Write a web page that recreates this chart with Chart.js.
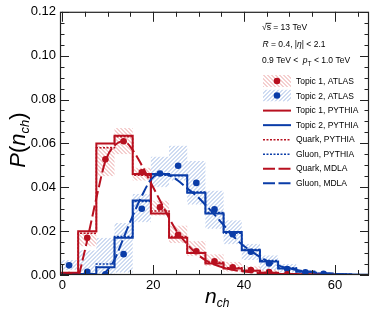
<!DOCTYPE html>
<html><head><meta charset="utf-8">
<script src="https://cdn.jsdelivr.net/npm/chart.js@4.4.1/dist/chart.umd.min.js"></script>
<style>html,body{margin:0;padding:0;background:#fff;}canvas{display:block;}</style>
</head><body>
<canvas id="c" width="386" height="316" style="width:386px;height:316px"></canvas>
<script>
// ---------------- data ----------------
const binEdges = [-0.5,3.5,7.5,11.5,15.5,19.5,23.5,27.5,31.5,35.5,39.5,43.5,47.5,51.5,55.5,59.5,63.5,67.5];
const topic1Pythia = [0.001,0.020,0.060,0.0635,0.046,0.028,0.017,0.010,0.0053,0.003,0.0019,0.001,0.0005,0.0003,0.0001,0,0];
const quarkPythia  = [0.001,0.019,0.058,0.063,0.0455,0.0292,0.0175,0.0103,0.0058,0.0033,0.002,0.0011,0.0006,0.0003,0.0001,0,0];
const topic2Pythia = [0.0005,0.0005,0.0035,0.017,0.034,0.046,0.0455,0.0375,0.028,0.0196,0.0113,0.0062,0.003,0.0015,0.0007,0.0003,0.0001];
const gluonPythia  = [0.0005,0.0006,0.005,0.0176,0.0335,0.0455,0.0452,0.0378,0.0285,0.019,0.0116,0.0066,0.0032,0.0016,0.0007,0.0003,0.0001];

const topic1Atlas   = [0,0.0170,0.0528,0.0610,0.0468,0.0309,0.0183,0.0108,0.0063,0.0035,0.0023,0.0014,0.0003];
const topic1AtlasLo = [0,0.013,0.045,0.055,0.043,0.027,0.0145,0.0085,0.004,0.0015,0.0008,0.0003,0];
const topic1AtlasHi = [0.0005,0.0195,0.059,0.067,0.049,0.034,0.0226,0.0155,0.0095,0.006,0.004,0.0025,0.001];
const topic2Atlas   = [0.0044,0.0015,0.0003,0.0095,0.0302,0.0463,0.0498,0.0420,0.0299,0.0186,0.0106,0.0053,0.0027,0.0012,0.0005];
const topic2AtlasLo = [0.0023,0,0,0.001,0.024,0.040,0.043,0.032,0.021,0.014,0.0068,0.002,0.001,0.0003,0.0001];
const topic2AtlasHi = [0.0068,0.0113,0.017,0.0237,0.037,0.054,0.059,0.052,0.0385,0.025,0.0143,0.009,0.005,0.002,0.001];

const quarkMdlaX = [3.7,5.5,7.5,9.5,11.5,13.5,15.5,17.5,19.5,21.5,23.5,25.5,27.5,29.5,31.5,33.5,35.5,37.5,41.5,45.5,49.5,53.5,57.5];
const quarkMdlaY = [0,0.016,0.035,0.052,0.059,0.061,0.057,0.050,0.042,0.034,0.026,0.019,0.014,0.0098,0.0068,0.0048,0.0034,0.0024,0.0012,0.0006,0.0003,0.0002,0.0001];
const gluonMdlaX = [8.7,9.5,11.5,13.5,15.5,17.5,19.5,21.5,23.5,25.5,27.5,29.5,31.5,33.5,35.5,37.5,39.5,41.5,43.5,45.5,47.5,49.5,53.5,57.5,61.5,65.5];
const gluonMdlaY = [0,0.0012,0.007,0.017,0.027,0.036,0.0435,0.046,0.0455,0.043,0.0395,0.0362,0.032,0.0275,0.0228,0.018,0.014,0.011,0.0082,0.006,0.0044,0.0032,0.0016,0.0008,0.0003,0.0001];

const xTickValues = [0,20,40,60];
const yTickValues = [0,0.02,0.04,0.06,0.08,0.10,0.12];
const legendLabels = ['Topic 1, ATLAS','Topic 2, ATLAS','Topic 1, PYTHIA','Topic 2, PYTHIA','Quark, PYTHIA','Gluon, PYTHIA','Quark, MDLA','Gluon, MDLA'];

// ---------------- helpers ----------------
const RED = '#b8101f', BLUE = '#0a3ca8';
const RED_HATCH = 'rgb(234,160,160)', BLUE_HATCH = 'rgb(158,184,228)';
const FONT = '"Liberation Sans", Arial, Helvetica, sans-serif';
const canvas = document.getElementById('c');
const centers = binEdges.slice(0,-1).map((e,i)=> (e+binEdges[i+1])/2);
const stepData = vals => vals.map((v,i)=>({x:binEdges[i], y:v})).concat([{x:binEdges[vals.length], y:vals[vals.length-1]}]);
const pts = vals => vals.map((v,i)=>({x:centers[i], y:v}));
const boxes = (lo,hi) => lo.map((l,i)=>({x:centers[i], y:[l,hi[i]]}));
const curve = (xs,ys) => xs.map((x,i)=>({x, y:ys[i]}));

function hatchRect(ctx, l, t, w, h, color, dir){
  if (w <= 0 || h <= 0) return;
  ctx.save();
  ctx.beginPath(); ctx.rect(l, t, w, h); ctx.clip();
  ctx.strokeStyle = color; ctx.lineWidth = 1; ctx.setLineDash([]);
  ctx.beginPath();
  const P = 4;
  if (dir > 0){
    const cmin = Math.floor((l + t) / P) * P, cmax = l + w + t + h + P;
    for (let c = cmin; c <= cmax; c += P){ ctx.moveTo(c - t + 0.5, t); ctx.lineTo(c - t - h + 0.5, t + h); }
  } else {
    const cmin = Math.floor((l - t - h) / P) * P - P, cmax = l + w - t + P;
    for (let c = cmin; c <= cmax; c += P){ ctx.moveTo(c + t + 0.5, t); ctx.lineTo(c + t + h + 0.5, t + h); }
  }
  ctx.stroke();
  ctx.restore();
}

function rich(ctx, x, y, parts, size){
  let cx = x;
  for (const p of parts){
    const sz = p.sz || size;
    ctx.font = (p.it ? 'italic ' : '') + sz + 'px ' + FONT;
    const yy = y + (p.dy || 0);
    ctx.fillText(p.t, cx, yy);
    const w = ctx.measureText(p.t).width;
    if (p.over){ ctx.save(); ctx.lineWidth = 0.8; ctx.strokeStyle = ctx.fillStyle; ctx.beginPath(); ctx.moveTo(cx-1, yy - sz*0.78); ctx.lineTo(cx+w+0.5, yy - sz*0.78); ctx.stroke(); ctx.restore(); }
    cx += w;
  }
  return cx - x;
}
function richWidth(ctx, parts, size){
  let w = 0;
  for (const p of parts){ ctx.font = (p.it ? 'italic ' : '') + (p.sz||size) + 'px ' + FONT; w += ctx.measureText(p.t).width; }
  return w;
}

const hatchPlugin = {
  id: 'hatchBars',
  afterDatasetDraw(chart, args){
    const ds = chart.data.datasets[args.index];
    if (!ds.hatchColor) return;
    const ctx = chart.ctx, a = chart.chartArea;
    ctx.save();
    ctx.beginPath(); ctx.rect(a.left, a.top, a.right - a.left, a.bottom - a.top); ctx.clip();
    for (const el of args.meta.data){
      const top = Math.min(el.y, el.base), bot = Math.max(el.y, el.base);
      hatchRect(ctx, el.x - el.width/2, top, el.width, bot - top, ds.hatchColor, ds.hatchDir);
    }
    ctx.restore();
  }
};

const decorPlugin = {
  id: 'decor',
  afterDatasetsDraw(chart){
    const {ctx, chartArea:a, scales:{x, y}} = chart;
    ctx.save();
    // frame
    ctx.strokeStyle = '#222'; ctx.lineWidth = 1.2;
    ctx.strokeRect(a.left + 0.5, a.top + 0.5, a.right - a.left - 1, a.bottom - a.top - 1);
    ctx.lineWidth = 1;
    ctx.beginPath();
    for (let v = 0; v <= 67; v += 5){
      const px = Math.round(x.getPixelForValue(v)) + 0.5;
      const L = (v % 20 === 0) ? 10 : 5;
      ctx.moveTo(px, a.bottom); ctx.lineTo(px, a.bottom - L);
      ctx.moveTo(px, a.top); ctx.lineTo(px, a.top + L);
    }
    for (let k = 0; k <= 24; k++){
      const v = k * 0.005;
      const py = Math.round(y.getPixelForValue(v)) + 0.5;
      const L = (k % 4 === 0) ? 9 : 4.5;
      ctx.moveTo(a.left, py); ctx.lineTo(a.left + L, py);
      ctx.moveTo(a.right, py); ctx.lineTo(a.right - L, py);
    }
    ctx.stroke();

    // axis titles
    ctx.fillStyle = '#000'; ctx.textBaseline = 'alphabetic'; ctx.textAlign = 'left';
    rich(ctx, 205, 303, [{t:'n', it:true},{t:'ch', it:true, sz:12, dy:4}], 21);
    ctx.save();
    ctx.translate(25, 140); ctx.rotate(-Math.PI/2);
    const yParts = [{t:'P', it:true},{t:'('},{t:'n', it:true},{t:'ch', it:true, sz:13, dy:4},{t:')'}];
    const yw = richWidth(ctx, yParts, 22);
    rich(ctx, -yw/2, 0, yParts, 22);
    ctx.restore();

    // header
    const fs = 8.5;
    rich(ctx, 262, 30, [{t:'\u221A'},{t:'s', over:true},{t:' = 13 TeV'}], fs);
    rich(ctx, 262.5, 46.5, [{t:'R', it:true},{t:' = 0.4, |'},{t:'\u03B7', it:true},{t:'| < 2.1'}], fs);
    rich(ctx, 262, 62.5, [{t:'0.9 TeV <  '},{t:'p', it:true},{t:'T', sz:6.5, dy:3},{t:' < 1.0 TeV'}], fs);

    // legend
    const x0 = 263, x1 = 291, tx = 296;
    legendLabels.forEach((lab, i) => {
      const cy = 81 + i * 14.55;
      if (i < 2){
        hatchRect(ctx, x0, cy - 6, x1 - x0, 12, i === 0 ? RED_HATCH : BLUE_HATCH, i === 0 ? -1 : 1);
        ctx.fillStyle = i === 0 ? RED : BLUE;
        ctx.beginPath(); ctx.arc((x0 + x1)/2, cy, 3.3, 0, Math.PI*2); ctx.fill();
      } else {
        const col = (i % 2 === 0) ? RED : BLUE;
        ctx.strokeStyle = col;
        if (i < 4){ ctx.lineWidth = 2; ctx.setLineDash([]); }
        else if (i < 6){ ctx.lineWidth = 1.5; ctx.setLineDash([2,1.5]); }
        else { ctx.lineWidth = 2; ctx.setLineDash([12,3.5]); }
        ctx.beginPath(); ctx.moveTo(x0, cy + 0.5); ctx.lineTo(x1, cy + 0.5); ctx.stroke();
        ctx.setLineDash([]);
      }
      ctx.fillStyle = '#000';
      ctx.font = fs + 'px ' + FONT;
      ctx.fillText(lab, tx, cy + 3);
    });
    ctx.restore();
  }
};

new Chart(canvas, {
  type: 'scatter',
  data: {
    datasets: [
      {type:'scatter', label:'Topic 1, ATLAS', data: pts(topic1Atlas), backgroundColor: RED, borderWidth:0, pointRadius:3.3, order:0},
      {type:'scatter', label:'Topic 2, ATLAS', data: pts(topic2Atlas), backgroundColor: BLUE, borderWidth:0, pointRadius:3.3, order:0},
      {type:'line', label:'Topic 1, PYTHIA', data: stepData(topic1Pythia), stepped:true, borderColor: RED, borderWidth:2, pointRadius:0, fill:false, order:2},
      {type:'line', label:'Topic 2, PYTHIA', data: stepData(topic2Pythia), stepped:true, borderColor: BLUE, borderWidth:2, pointRadius:0, fill:false, order:2},
      {type:'line', label:'Quark, PYTHIA', data: stepData(quarkPythia), stepped:true, borderColor: RED, borderWidth:1.5, borderDash:[2,1.5], pointRadius:0, fill:false, order:3},
      {type:'line', label:'Gluon, PYTHIA', data: stepData(gluonPythia), stepped:true, borderColor: BLUE, borderWidth:1.5, borderDash:[2,1.5], pointRadius:0, fill:false, order:3},
      {type:'line', label:'Quark, MDLA', data: curve(quarkMdlaX, quarkMdlaY), cubicInterpolationMode:'monotone', borderColor: RED, borderWidth:2, borderDash:[11,4], pointRadius:0, fill:false, order:1},
      {type:'line', label:'Gluon, MDLA', data: curve(gluonMdlaX, gluonMdlaY), cubicInterpolationMode:'monotone', borderColor: BLUE, borderWidth:2, borderDash:[11,4], pointRadius:0, fill:false, order:1},
      {type:'bar', label:'Topic 1 unc', data: boxes(topic1AtlasLo, topic1AtlasHi), backgroundColor:'rgba(0,0,0,0)', hatchColor: RED_HATCH, hatchDir:-1, borderWidth:0, grouped:false, barPercentage:1, categoryPercentage:1, order:10},
      {type:'bar', label:'Topic 2 unc', data: boxes(topic2AtlasLo, topic2AtlasHi), backgroundColor:'rgba(0,0,0,0)', hatchColor: BLUE_HATCH, hatchDir:1, borderWidth:0, grouped:false, barPercentage:1, categoryPercentage:1, order:11}
    ]
  },
  options: {
    responsive:false, animation:false, devicePixelRatio:1,
    layout:{padding:{left:0, right:17, top:10, bottom:0}},
    plugins:{legend:{display:false}, tooltip:{enabled:false}},
    scales:{
      x:{type:'linear', min:-0.5, max:67.5, offset:false,
         grid:{display:false, drawTicks:false}, border:{display:false},
         afterBuildTicks(s){ s.ticks = xTickValues.map(v=>({value:v})); },
         afterFit(s){ s.height = 41; },
         ticks:{padding:3, color:'#000', font:{family:FONT, size:13}, maxRotation:0, callback:v=>String(v)}},
      y:{type:'linear', min:0, max:0.12,
         grid:{display:false, drawTicks:false}, border:{display:false},
         afterBuildTicks(s){ s.ticks = yTickValues.map(v=>({value:v})); },
         afterFit(s){ s.width = 60; },
         ticks:{padding:4, color:'#000', font:{family:FONT, size:13}, callback:v=>Number(v).toFixed(2)}}
    }
  },
  plugins:[hatchPlugin, decorPlugin]
});
</script>
</body></html>
